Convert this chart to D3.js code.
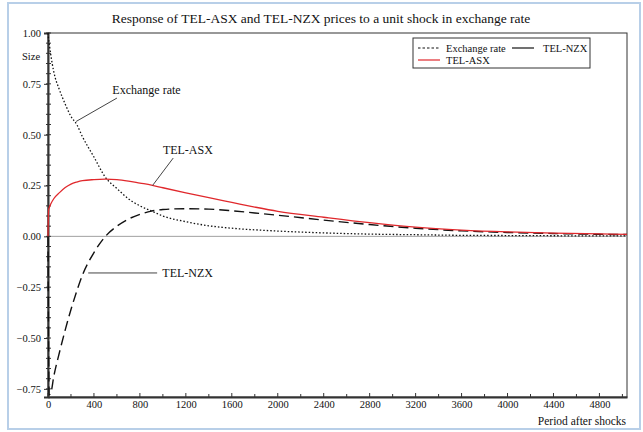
<!DOCTYPE html>
<html>
<head>
<meta charset="utf-8">
<script src="https://cdn.jsdelivr.net/npm/d3@7"></script>
<style>
  body { margin: 0; background: #fff; }
  svg text { font-family: "Liberation Serif", "DejaVu Serif", serif; fill: #111; }
</style>
</head>
<body>
<div id="chart"></div>
<script>
// values
const periods  = [0, 5, 10, 25, 50, 100, 150, 200, 250, 300, 400, 500, 600, 700, 800, 900, 1000,
                  1200, 1400, 1600, 1800, 2000, 2400, 2800, 3200, 3600, 4000, 4400, 4800, 5040];
const exchange = [1.0, 0.97, 0.95, 0.89, 0.81, 0.72, 0.65, 0.59, 0.55, 0.49, 0.39, 0.29, 0.235, 0.185, 0.15, 0.125, 0.10,
                  0.072, 0.052, 0.04, 0.032, 0.026, 0.017, 0.011, 0.008, 0.005, 0.004, 0.003, 0.002, 0.002];
const telAsx   = [0.0, 0.13, 0.14, 0.16, 0.185, 0.215, 0.24, 0.257, 0.267, 0.274, 0.279, 0.281, 0.279, 0.272, 0.262, 0.252, 0.239,
                  0.214, 0.19, 0.167, 0.144, 0.123, 0.094, 0.067, 0.045, 0.031, 0.022, 0.016, 0.012, 0.010];
const telNzx   = [0.0, -0.5, -0.78, -0.77, -0.69, -0.57, -0.46, -0.36, -0.27, -0.19, -0.08, 0.0, 0.05, 0.085, 0.108, 0.124, 0.132,
                  0.136, 0.134, 0.126, 0.115, 0.104, 0.08, 0.058, 0.04, 0.027, 0.019, 0.014, 0.010, 0.009];
const xTicks = [0, 400, 800, 1200, 1600, 2000, 2400, 2800, 3200, 3600, 4000, 4400, 4800];
const yTicks = [-0.75, -0.5, -0.25, 0, 0.25, 0.5, 0.75, 1.0];

const width = 643, height = 432;
const plotLeft = 48, plotRight = 627, plotTop = 33, plotBottom = 397;
const serif = "Liberation Serif, DejaVu Serif, serif";

const svg = d3.select("#chart").append("svg").attr("width", width).attr("height", height)
  .attr("font-family", serif);

// outer light blue frame
svg.append("rect").attr("x", 8).attr("y", 3).attr("width", 632).attr("height", 426)
  .attr("fill", "none").attr("stroke", "#b8cfe8").attr("stroke-width", 2);

let x = d3.scaleLinear().domain([0, 5040]).range([plotLeft, plotRight]);
let y = d3.scaleLinear().domain([-0.79, 1.0]).range([plotBottom, plotTop]);

// title
svg.append("text").attr("x", 321).attr("y", 23).attr("text-anchor", "middle")
  .style("font-size", "13.5px").text("Response of TEL-ASX and TEL-NZX prices to a unit shock in exchange rate");

// plot frame
svg.append("rect").attr("x", plotLeft).attr("y", plotTop).attr("width", plotRight - plotLeft).attr("height", plotBottom - plotTop)
  .attr("fill", "none").attr("stroke", "#333").attr("stroke-width", 1);

// zero line
svg.append("line").attr("x1", plotLeft).attr("x2", plotRight).attr("y1", y(0)).attr("y2", y(0))
  .attr("stroke", "#a0a0a0").attr("stroke-width", 1);

// axes
let xAxis = d3.axisBottom(x).tickValues(xTicks).tickFormat(d3.format("d")).tickSize(0).tickPadding(4);
let xAxisGroup = svg.append("g").attr("transform", `translate(0, ${plotBottom})`).call(xAxis)
  .attr("font-family", serif).attr("font-size", 10.5);
xAxisGroup.select(".domain").attr("stroke", "#333").attr("stroke-width", 2);

let xMinor = d3.range(0, 5040, 200);
svg.append("g").selectAll("line").data(xMinor).join("line")
  .attr("x1", d => x(d)).attr("x2", d => x(d))
  .attr("y1", plotBottom).attr("y2", d => plotBottom - (d % 400 === 0 ? 4 : 3))
  .attr("stroke", "#333");

let yAxis = d3.axisLeft(y).tickValues(yTicks).tickFormat(d3.format(".2f")).tickSize(4).tickPadding(3);
let yAxisGroup = svg.append("g").attr("transform", `translate(${plotLeft}, 0)`).call(yAxis)
  .attr("font-family", serif).attr("font-size", 10.5);
yAxisGroup.select(".domain").attr("stroke", "#333").attr("stroke-width", 2);
yAxisGroup.selectAll(".tick line").attr("stroke", "#333");

let yMinor = d3.range(-0.75, 1.0001, 0.05);
svg.append("g").selectAll("line").data(yMinor).join("line")
  .attr("x1", plotLeft - 2).attr("x2", plotLeft + 3)
  .attr("y1", d => y(d)).attr("y2", d => y(d))
  .attr("stroke", "#333");

svg.append("text").attr("x", 22).attr("y", 60).style("font-size", "10.5px").text("Size");
svg.append("text").attr("x", 626).attr("y", 425).attr("text-anchor", "end")
  .style("font-size", "11.5px").text("Period after shocks");

// series
const series = [
  {name: "Exchange rate", values: exchange, color: "#111", dash: "1.5,2", w: 1.3},
  {name: "TEL-NZX", values: telNzx, color: "#111", dash: "10,5", w: 1.4},
  {name: "TEL-ASX", values: telAsx, color: "#e0282c", dash: null, w: 1.3}
];

let line = d3.line().x(d => x(d[0])).y(d => y(d[1])).curve(d3.curveMonotoneX);
series.forEach(s => {
  svg.append("path")
    .datum(periods.map((p, i) => [p, s.values[i]]))
    .attr("d", line)
    .attr("fill", "none")
    .attr("stroke", s.color)
    .attr("stroke-width", s.w)
    .attr("stroke-dasharray", s.dash);
});

// annotations (in data units)
const notes = [
  {text: "Exchange rate", from: [245, 0.565], to: [600, 0.68], at: [560, 0.70]},
  {text: "TEL-ASX", from: [910, 0.25], to: [1090, 0.385], at: [1000, 0.405]},
  {text: "TEL-NZX", from: [350, -0.18], to: [950, -0.18], at: [995, -0.198]}
];
notes.forEach(n => {
  svg.append("line")
    .attr("x1", x(n.from[0])).attr("y1", y(n.from[1]))
    .attr("x2", x(n.to[0])).attr("y2", y(n.to[1]))
    .attr("stroke", "#444").attr("stroke-width", 1);
  svg.append("text").attr("x", x(n.at[0])).attr("y", y(n.at[1]))
    .style("font-size", "12px").text(n.text);
});

// legend
let legend = svg.append("g");
legend.append("rect").attr("x", 413).attr("y", 38).attr("width", 177).attr("height", 30)
  .attr("fill", "#fff").attr("stroke", "#333").attr("stroke-width", 1);
const legendItems = [
  {s: series[0], lx: 418, ly: 48},
  {s: series[1], lx: 512, ly: 48},
  {s: series[2], lx: 418, ly: 60}
];
legendItems.forEach(it => {
  legend.append("line").attr("x1", it.lx).attr("x2", it.lx + 22).attr("y1", it.ly).attr("y2", it.ly)
    .attr("stroke", it.s.color).attr("stroke-width", 1.2)
    .attr("stroke-dasharray", it.s.name === "Exchange rate" ? "2.5,2" : null);
  legend.append("text").attr("x", it.lx + (it.s.name === "TEL-NZX" ? 31 : 28)).attr("y", it.ly + 3.5)
    .style("font-size", "10.5px").text(it.s.name);
});
</script>
</body>
</html>
